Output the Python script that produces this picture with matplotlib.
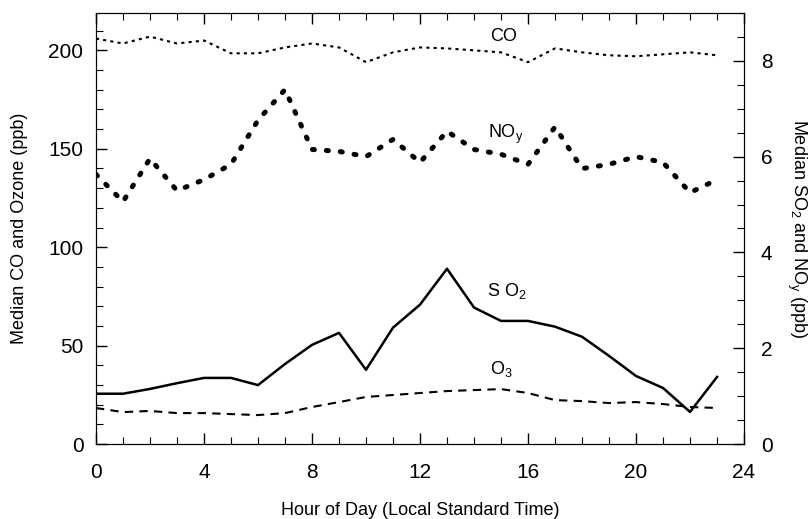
import matplotlib
matplotlib.use("Agg")
import matplotlib.pyplot as plt
from matplotlib.ticker import MultipleLocator

plt.rcParams['font.family'] = ['Liberation Sans', 'DejaVu Sans']
plt.rcParams['mathtext.fontset'] = 'custom'
plt.rcParams['mathtext.rm'] = 'Liberation Sans'
plt.rcParams['mathtext.it'] = 'Liberation Sans'

hours = list(range(24))
co = [206, 203.5, 207, 203.5, 205, 198.5, 198.5, 201.5, 203.5, 201.5, 194, 199,
      201.5, 201, 200, 199, 194, 201, 199, 197.5, 197, 198, 199, 197.5]
o3 = [18.3, 16.2, 16.8, 15.7, 15.7, 15.2, 14.7, 15.7, 18.8, 21.3, 23.9, 24.9,
      25.9, 26.9, 27.4, 27.9, 25.9, 22.3, 21.8, 20.8, 21.3, 20.3, 18.8, 18.3]
noy = [5.63, 5.06, 5.96, 5.29, 5.52, 5.84, 6.76, 7.4, 6.15, 6.11, 6.0, 6.36,
       5.88, 6.53, 6.15, 6.05, 5.84, 6.62, 5.75, 5.84, 6.0, 5.88, 5.25, 5.52]
so2 = [1.05, 1.05, 1.15, 1.27, 1.38, 1.38, 1.23, 1.67, 2.07, 2.32, 1.55, 2.43,
       2.91, 3.66, 2.85, 2.57, 2.57, 2.45, 2.24, 1.84, 1.42, 1.17, 0.67, 1.40]

fig = plt.figure(figsize=(8.12, 5.19), dpi=100)
ax = fig.add_axes([0.1182, 0.1445, 0.7981, 0.8305])
ax2 = ax.twinx()

ax.plot(hours, co, color='black', lw=1.5, linestyle=(0, (1.5, 2)))
ax.plot(hours, o3, color='black', lw=1.5, linestyle=(0, (4, 3)))
ax2.plot(hours, noy, color='black', lw=3.6, linestyle=(0, (0.4, 2.4)),
         dash_capstyle='round')
ax2.plot(hours, so2, color='black', lw=1.8)

ax.set_xlim(0, 24)
ax.set_ylim(0, 219)
ax2.set_ylim(0, 9)

ax.xaxis.set_major_locator(MultipleLocator(4))
ax.xaxis.set_minor_locator(MultipleLocator(1))
ax.yaxis.set_major_locator(MultipleLocator(50))
ax.yaxis.set_minor_locator(MultipleLocator(10))
ax2.yaxis.set_major_locator(MultipleLocator(2))
ax2.yaxis.set_minor_locator(MultipleLocator(0.5))

ax.tick_params(axis='both', which='both', direction='in', top=True, right=False)
ax.tick_params(which='major', length=8, width=1, labelsize=15)
ax.tick_params(axis='x', which='major', pad=14)
ax.tick_params(axis='y', which='major', pad=9)
ax.tick_params(which='minor', length=5, width=0.8)
ax2.tick_params(axis='y', which='both', direction='in')
ax2.tick_params(which='major', length=8, width=1, labelsize=15, pad=12)
ax2.tick_params(which='minor', length=5, width=0.8)

ax.set_xlabel('Hour of Day (Local Standard Time)', fontsize=13, labelpad=14)
ax.set_ylabel('Median CO and Ozone (ppb)', fontsize=13, labelpad=15)
ax2.set_ylabel('Median SO$_2$ and NO$_\\mathrm{y}$ (ppb)', fontsize=13,
               rotation=-90, labelpad=26)

ax.text(15.1, 207, 'CO', fontsize=13, ha='center', va='center')
ax2.text(14.52, 6.46, 'NO$_\\mathrm{y}$', fontsize=13, ha='left', va='center')
ax2.text(15.2, 3.2, 'S O$_2$', fontsize=13, ha='center', va='center')
ax.text(15.0, 38, 'O$_3$', fontsize=13, ha='center', va='center')

fig.savefig('out.png', dpi=100)
